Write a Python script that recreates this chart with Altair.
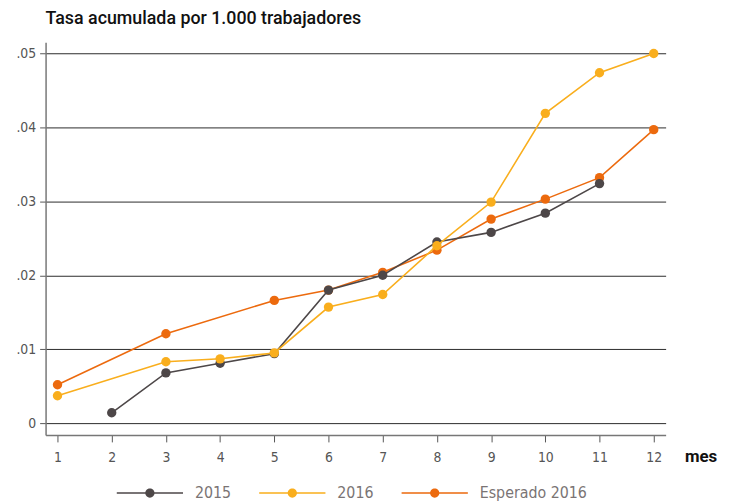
import altair as alt
import pandas as pd

months = list(range(1, 13))
series_names = ["2015", "2016", "Esperado 2016"]
colors = ["#4d4748", "#f9ae1d", "#ec6a0e"]
v2015 = [None, 0.0014, 0.0068, 0.0081, 0.0094, 0.0180, 0.0200, 0.0245, 0.0258, 0.0284, 0.0324, None]
v2016 = [0.0037, None, 0.0083, 0.0087, 0.0095, 0.0157, 0.0174, 0.0240, 0.0299, 0.0419, 0.0474, 0.0500]
vesp = [0.0052, None, 0.0121, None, 0.0166, 0.0180, 0.0204, 0.0234, 0.0276, 0.0303, 0.0332, 0.0397]
y_ticks = [0, 0.01, 0.02, 0.03, 0.04, 0.05]

rows = []
for name, vals in zip(series_names, [v2015, v2016, vesp]):
    for m, v in zip(months, vals):
        if v is not None:
            rows.append({"mes": m, "tasa": v, "serie": name})
df = pd.DataFrame(rows)

FONT = "DejaVu Sans Condensed, Roboto, sans-serif"

sym = ("M-1,-0.022H1V0.022H-1Z"
       "M0.14,0A0.14,0.14,0,1,1,-0.14,0A0.14,0.14,0,1,1,0.14,0Z")

leg = alt.Legend(
    title=None, orient="none", direction="horizontal",
    legendX=72, legendY=422,
    symbolType=sym, symbolSize=4489, symbolStrokeWidth=0,
    labelFont=FONT, labelFontSize=16, labelColor="#7a7474",
    labelOffset=12, columnPadding=28, symbolOpacity=1,
)

scale = alt.Scale(domain=series_names, range=colors)

x = alt.X("mes:Q", scale=alt.Scale(domain=[0.78, 12.22], nice=False, zero=False),
          axis=alt.Axis(values=months, title="mes", grid=False, domainColor="#777",
                        domainWidth=1.5, tickColor="#555", tickSize=7, labelPadding=9,
                        labelFont=FONT, labelFontSize=14,
                        labelColor="#555", titleFont="Roboto", titleFontSize=17,
                        titleFontWeight="bold", titleColor="#111", titleAlign="left",
                        titleAnchor="start", titleX=646, titleY=22,
                        titleBaseline="middle"))
y = alt.Y("tasa:Q", scale=alt.Scale(domain=[-0.0016, 0.0515], nice=False, zero=False),
          axis=alt.Axis(values=y_ticks, title=None, grid=True, gridColor="#2a2a2a",
                        gridWidth=1, domainColor="#777", domainWidth=1.5,
                        tickColor="#555", tickSize=6, labelPadding=4,
                        labelExpr="datum.value == 0 ? '0' : replace(format(datum.value, '.2f'), '0.', '.')",
                        labelFont=FONT, labelFontSize=14,
                        labelColor="#555"))

base = alt.Chart(df)
layers = []
for name in ["Esperado 2016", "2015", "2016"]:
    sub = base.transform_filter(alt.datum.serie == name)
    layers.append(sub.mark_circle(size=90, opacity=1).encode(x=x, y=y, color=alt.Color("serie:N", scale=scale, legend=leg)))
    layers.append(sub.mark_line(strokeWidth=1.6).encode(x=x, y=y, color=alt.Color("serie:N", scale=scale, legend=leg)))

chart = alt.layer(*layers).properties(
    width=627, height=397,
    title=alt.TitleParams("Tasa acumulada por 1.000 trabajadores", anchor="start",
                          frame="group", font="Roboto", fontSize=18, fontWeight=500,
                          color="#111", offset=15),
    autosize=alt.AutoSizeParams(type="none"),
    padding={"left": 38, "top": 32, "right": 58, "bottom": 65},
).configure_view(stroke=None)

chart.save("out.html", embed_options={"renderer": "svg", "actions": False})
